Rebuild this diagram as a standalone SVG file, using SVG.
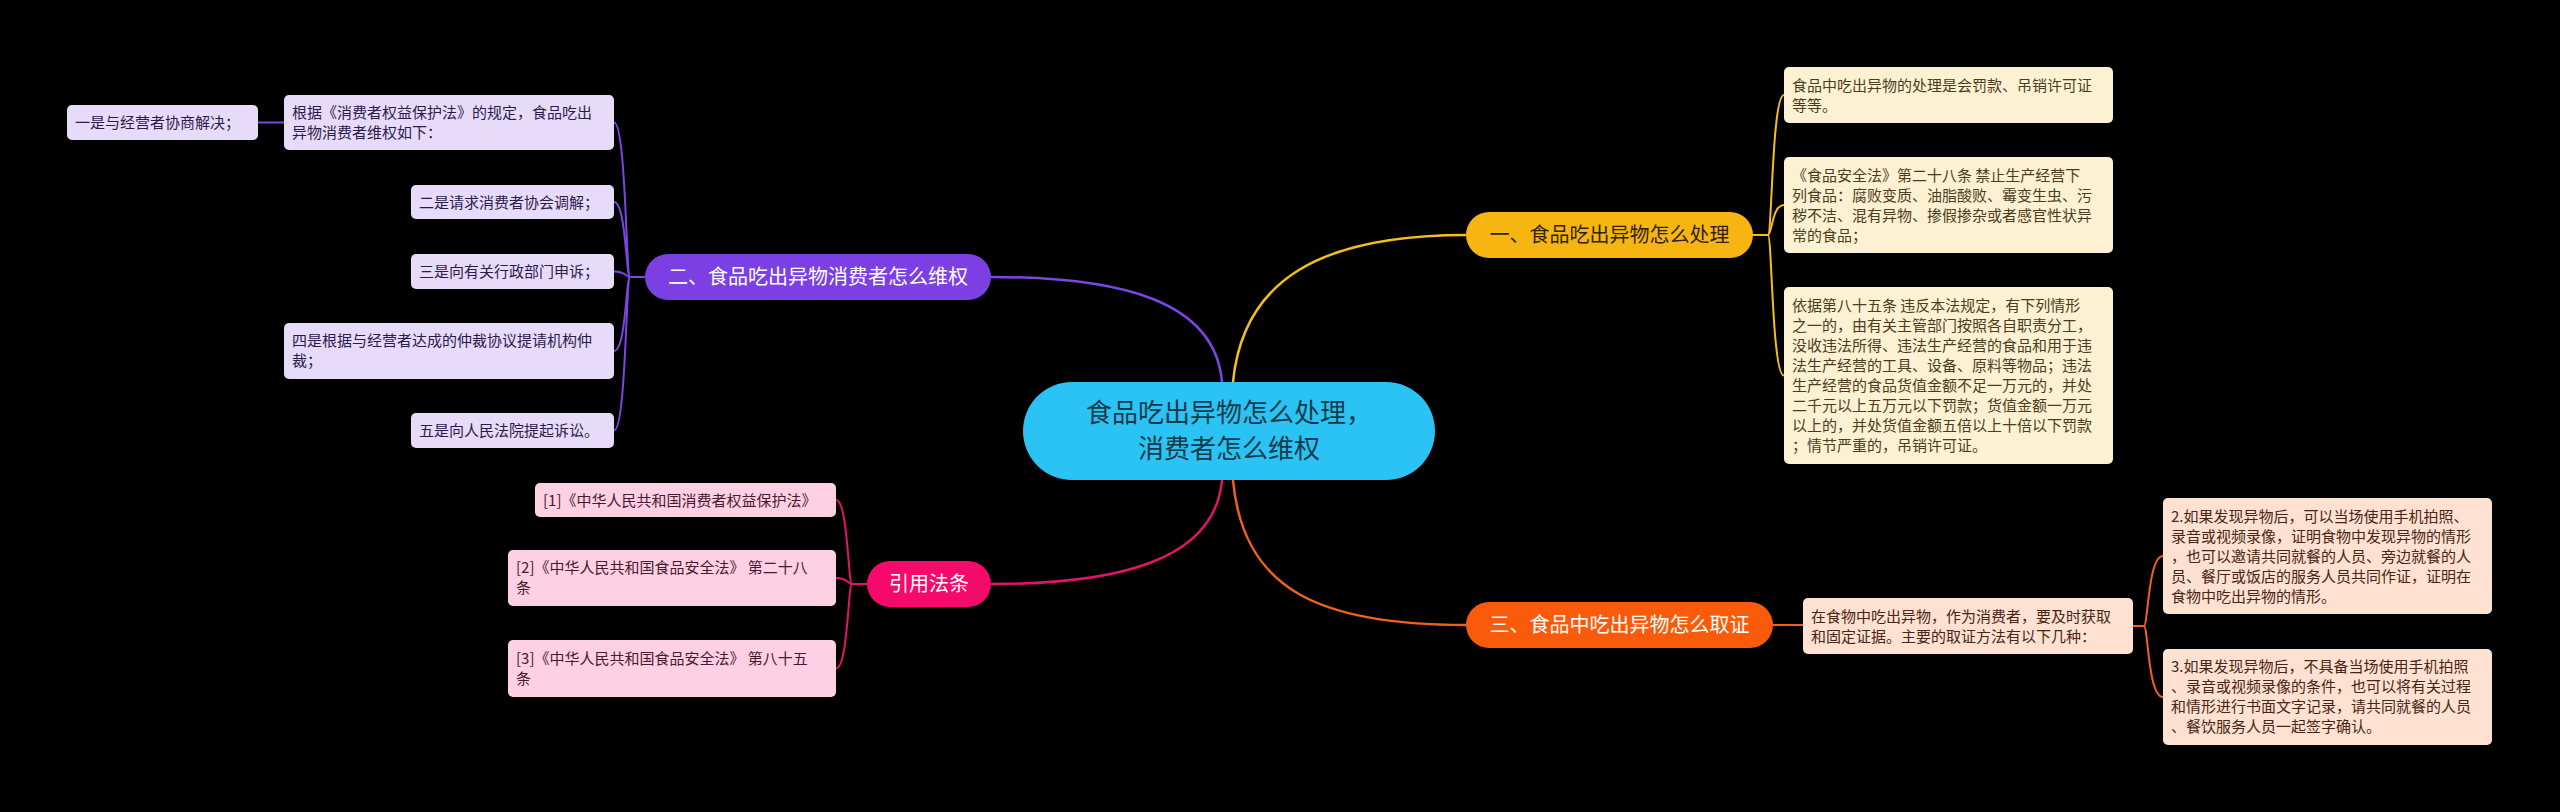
<svg xmlns="http://www.w3.org/2000/svg" width="2560" height="812" viewBox="0 0 2560 812">
<style>
text{font-family:"Noto Sans CJK SC","Liberation Sans",sans-serif;}
.leaf{font-size:15px;}
.main{font-size:20px;text-anchor:middle;}
.root{font-size:26px;text-anchor:middle;fill:#173a4b;}
.ln{fill:none;stroke-width:2;}
.rl{fill:none;stroke-width:2.5;}
.py{fill:#E7DBFA;}
.pt{fill:#2b1b4c;}
.pk{fill:#FDD1E3;}
.pkt{fill:#4a1830;}
.yl{fill:#FDF1D4;}
.ylt{fill:#4d3c1c;}
.or{fill:#FEE1D0;}
.ort{fill:#4a2414;}
</style>
<rect x="0" y="0" width="2560" height="812" fill="#000"/>
<g id="connectors">
<path class="rl" stroke="#F6BE1C" d="M1233,382 C1243,280 1320,235 1466,235"/>
<path class="rl" stroke="#7D45E2" d="M1222,382 C1215,300 1120,277 991,277"/>
<path class="rl" stroke="#E0156A" d="M1222,480 C1215,560 1120,584 991,584"/>
<path class="rl" stroke="#F0611C" d="M1233,480 C1243,590 1320,625 1466,625"/>
<g stroke="#7D45E2">
<path class="ln" d="M645,277 H630 C626,277 626,122.5 614,122.5"/>
<path class="ln" d="M645,277 H630 C626,277 626,202 614,202"/>
<path class="ln" d="M645,277 H630 C626,277 626,271.5 614,271.5"/>
<path class="ln" d="M645,277 H630 C626,277 626,351 614,351"/>
<path class="ln" d="M645,277 H630 C626,277 626,430.5 614,430.5"/>
<path class="ln" d="M284,122.5 H258"/>
</g>
<g stroke="#F6BE1C">
<path class="ln" d="M1753,235 H1768 C1772,235 1772,95 1784,95"/>
<path class="ln" d="M1753,235 H1768 C1772,235 1772,205 1784,205"/>
<path class="ln" d="M1753,235 H1768 C1772,235 1772,375.5 1784,375.5"/>
</g>
<g stroke="#E0156A">
<path class="ln" d="M867,584 H852 C848,584 848,500 836,500"/>
<path class="ln" d="M867,584 H852 C848,584 848,578 836,578"/>
<path class="ln" d="M867,584 H852 C848,584 848,668.5 836,668.5"/>
</g>
<g stroke="#F0611C">
<path class="ln" d="M1773,625 H1803"/>
<path class="ln" d="M2133,626 H2144 C2148,626 2148,556 2163,556"/>
<path class="ln" d="M2133,626 H2144 C2148,626 2148,697 2163,697"/>
</g>
</g>
<g id="root">
<rect x="1023" y="382" width="412" height="98" rx="49" fill="#2BC3F3"/>
<text class="root" x="1229" y="422">食品吃出异物怎么处理，</text>
<text class="root" x="1229" y="458">消费者怎么维权</text>
</g>
<g id="n1">
<rect x="1466" y="212" width="287" height="46" rx="23" fill="#F7B512"/>
<text class="main" x="1609.5" y="242" fill="#2e2200">一、食品吃出异物怎么处理</text>
</g>
<g id="n1a">
<rect class="yl" x="1784" y="67" width="329" height="56" rx="5"/>
<text class="leaf ylt" x="1792"><tspan x="1792" y="91">食品中吃出异物的处理是会罚款、吊销许可证</tspan><tspan x="1792" y="111">等等。</tspan></text>
</g>
<g id="n1b">
<rect class="yl" x="1784" y="157" width="329" height="96" rx="5"/>
<text class="leaf ylt"><tspan x="1792" y="181">《食品安全法》第二十八条 禁止生产经营下</tspan><tspan x="1792" y="201">列食品：腐败变质、油脂酸败、霉变生虫、污</tspan><tspan x="1792" y="221">秽不洁、混有异物、掺假掺杂或者感官性状异</tspan><tspan x="1792" y="241">常的食品；</tspan></text>
</g>
<g id="n1c">
<rect class="yl" x="1784" y="287" width="329" height="177" rx="5"/>
<text class="leaf ylt"><tspan x="1792" y="311">依据第八十五条 违反本法规定，有下列情形</tspan><tspan x="1792" y="331">之一的，由有关主管部门按照各自职责分工，</tspan><tspan x="1792" y="351">没收违法所得、违法生产经营的食品和用于违</tspan><tspan x="1792" y="371">法生产经营的工具、设备、原料等物品；违法</tspan><tspan x="1792" y="391">生产经营的食品货值金额不足一万元的，并处</tspan><tspan x="1792" y="411">二千元以上五万元以下罚款；货值金额一万元</tspan><tspan x="1792" y="431">以上的，并处货值金额五倍以上十倍以下罚款</tspan><tspan x="1792" y="451">；情节严重的，吊销许可证。</tspan></text>
</g>
<g id="n2">
<rect x="645" y="254" width="346" height="46" rx="23" fill="#7B3FE4"/>
<text class="main" x="818" y="284" fill="#fff">二、食品吃出异物消费者怎么维权</text>
</g>
<g id="n2a">
<rect class="py" x="284" y="95" width="330" height="55" rx="5"/>
<text class="leaf pt"><tspan x="292" y="118">根据《消费者权益保护法》的规定，食品吃出</tspan><tspan x="292" y="138">异物消费者维权如下：</tspan></text>
</g>
<g id="n2a1">
<rect class="py" x="67" y="105" width="191" height="35" rx="5"/>
<text class="leaf pt" x="75" y="128">一是与经营者协商解决；</text>
</g>
<g id="n2b">
<rect class="py" x="411" y="185" width="203" height="34" rx="5"/>
<text class="leaf pt" x="419" y="207.5">二是请求消费者协会调解；</text>
</g>
<g id="n2c">
<rect class="py" x="411" y="254" width="203" height="35" rx="5"/>
<text class="leaf pt" x="419" y="277">三是向有关行政部门申诉；</text>
</g>
<g id="n2d">
<rect class="py" x="284" y="323" width="330" height="56" rx="5"/>
<text class="leaf pt"><tspan x="292" y="346">四是根据与经营者达成的仲裁协议提请机构仲</tspan><tspan x="292" y="366">裁；</tspan></text>
</g>
<g id="n2e">
<rect class="py" x="411" y="413" width="203" height="35" rx="5"/>
<text class="leaf pt" x="419" y="436">五是向人民法院提起诉讼。</text>
</g>
<g id="n3">
<rect x="867" y="561" width="124" height="46" rx="23" fill="#F5096B"/>
<text class="main" x="929" y="591" fill="#fff">引用法条</text>
</g>
<g id="n3a">
<rect class="pk" x="535" y="483" width="301" height="34" rx="5"/>
<text class="leaf pkt" x="543" y="505.5">[1]《中华人民共和国消费者权益保护法》</text>
</g>
<g id="n3b">
<rect class="pk" x="508" y="550" width="328" height="56" rx="5"/>
<text class="leaf pkt"><tspan x="516" y="573">[2]《中华人民共和国食品安全法》 第二十八</tspan><tspan x="516" y="593">条</tspan></text>
</g>
<g id="n3c">
<rect class="pk" x="508" y="640" width="328" height="57" rx="5"/>
<text class="leaf pkt"><tspan x="516" y="663.5">[3]《中华人民共和国食品安全法》 第八十五</tspan><tspan x="516" y="683.5">条</tspan></text>
</g>
<g id="n4">
<rect x="1466" y="602" width="307" height="46" rx="23" fill="#FA5B0B"/>
<text class="main" x="1619.5" y="632" fill="#fff">三、食品中吃出异物怎么取证</text>
</g>
<g id="n4a">
<rect class="or" x="1803" y="598" width="330" height="56" rx="5"/>
<text class="leaf ort"><tspan x="1811" y="622">在食物中吃出异物，作为消费者，要及时获取</tspan><tspan x="1811" y="642">和固定证据。主要的取证方法有以下几种：</tspan></text>
</g>
<g id="n4b">
<rect class="or" x="2163" y="498" width="329" height="116" rx="5"/>
<text class="leaf ort"><tspan x="2171" y="522">2.如果发现异物后，可以当场使用手机拍照、</tspan><tspan x="2171" y="542">录音或视频录像，证明食物中发现异物的情形</tspan><tspan x="2171" y="562">，也可以邀请共同就餐的人员、旁边就餐的人</tspan><tspan x="2171" y="582">员、餐厅或饭店的服务人员共同作证，证明在</tspan><tspan x="2171" y="602">食物中吃出异物的情形。</tspan></text>
</g>
<g id="n4c">
<rect class="or" x="2163" y="649" width="329" height="96" rx="5"/>
<text class="leaf ort"><tspan x="2171" y="672">3.如果发现异物后，不具备当场使用手机拍照</tspan><tspan x="2171" y="692">、录音或视频录像的条件，也可以将有关过程</tspan><tspan x="2171" y="712">和情形进行书面文字记录，请共同就餐的人员</tspan><tspan x="2171" y="732">、餐饮服务人员一起签字确认。</tspan></text>
</g>
</svg>
